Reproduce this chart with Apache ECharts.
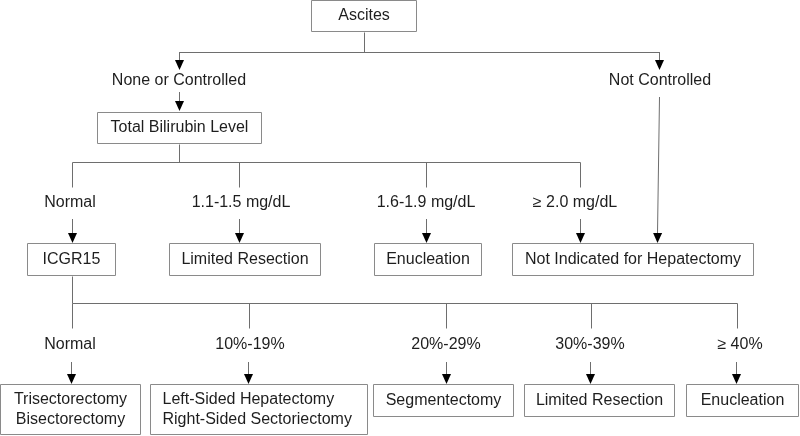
<!DOCTYPE html>
<html>
<head>
<meta charset="utf-8">
<script src="https://cdn.jsdelivr.net/npm/echarts@6/dist/echarts.min.js"></script>
<style>
html,body{margin:0;padding:0;background:#fff;}
#chart{width:800px;height:436px;}
</style>
</head>
<body>
<div id="chart"></div>
<script>
// Box nodes: label text
var boxLabels = [
  "Ascites",
  "Total Bilirubin Level",
  "ICGR15",
  "Limited Resection",
  "Enucleation",
  "Not Indicated for Hepatectomy",
  "Trisectorectomy\nBisectorectomy",
  "Left-Sided Hepatectomy\nRight-Sided Sectoriectomy",
  "Segmentectomy",
  "Limited Resection",
  "Enucleation"
];
// Box extents in diagram units: [x0, y0, x1, y1]
var boxRects = [
  [311, 0, 417, 32],
  [97, 112, 262, 144],
  [27, 243, 116, 276],
  [169, 243, 321, 276],
  [374, 243, 482, 276],
  [512, 243, 754, 276],
  [0, 384, 141, 435],
  [150, 384, 368, 435],
  [373, 384, 514, 417],
  [524, 384, 675, 417],
  [686, 384, 799, 417]
];
// Text alignment of box labels
var boxAlign = ["center","center","center","center","center","center","center","left","center","center","center"];

// Branch labels
var edgeLabels = [
  "None or Controlled", "Not Controlled",
  "Normal", "1.1-1.5 mg/dL", "1.6-1.9 mg/dL", "\u2265 2.0 mg/dL",
  "Normal", "10%-19%", "20%-29%", "30%-39%", "\u2265 40%"
];
var edgeLabelPos = [
  [179, 81], [660, 81],
  [70, 203], [241, 203], [426, 203], [575, 203],
  [70, 345], [250, 345], [446, 345], [590, 345], [740, 345]
];

// Plain connector lines (polylines)
var connectors = [
  [[364, 32], [364, 52]],
  [[179, 52], [659, 52]],
  [[179, 144], [179, 162]],
  [[72, 162], [580, 162]],
  [[72, 162], [72, 187]],
  [[239, 162], [239, 187]],
  [[426, 162], [426, 187]],
  [[580, 162], [580, 187]],
  [[72, 276], [72, 303]],
  [[72, 303], [737, 303]],
  [[72, 303], [72, 328]],
  [[249, 303], [249, 328]],
  [[446, 303], [446, 328]],
  [[591, 303], [591, 328]],
  [[737, 303], [737, 328]]
];
// Arrows: [from, to]
var arrows = [
  [[179, 52], [179, 70]],
  [[659, 52], [659, 70]],
  [[179, 92], [179, 111]],
  [[72, 219], [72, 243]],
  [[239, 219], [239, 243]],
  [[426, 219], [426, 243]],
  [[580, 219], [580, 243]],
  [[659, 97], [657, 243]],
  [[71, 362], [71, 384]],
  [[248, 362], [248, 384]],
  [[446, 362], [446, 384]],
  [[590, 362], [590, 384]],
  [[736, 362], [736, 384]]
];

var FONT = '"Liberation Sans", Arial, sans-serif';
var TEXT_COLOR = '#1e1e1e';
var LINE_COLOR = '#6e6e6e';
var BOX_COLOR = '#8a8a8a';

var chart = echarts.init(document.getElementById('chart'), null, {renderer: 'canvas'});

var boxData = boxRects.map(function (r, i) {
  return {value: [r[0], r[1], r[2], r[3]], name: boxLabels[i], align: boxAlign[i]};
});
var labelData = edgeLabelPos.map(function (p, i) {
  return {value: [p[0], p[1]], name: edgeLabels[i]};
});
var connData = connectors.map(function (c) {
  return {value: [c[0][0], c[0][1], c[1][0], c[1][1]]};
});
var arrowData = arrows.map(function (a) {
  return {value: [a[0][0], a[0][1], a[1][0], a[1][1]]};
});

var option = {
  animation: false,
  backgroundColor: '#ffffff',
  grid: {left: 0, right: 0, top: 0, bottom: 0},
  xAxis: {type: 'value', min: 0, max: 800, show: false},
  yAxis: {type: 'value', min: 0, max: 436, inverse: true, show: false},
  series: [
    {
      type: 'custom',
      name: 'connectors',
      data: connData,
      renderItem: function (params, api) {
        var p0 = api.coord([api.value(0), api.value(1)]);
        var p1 = api.coord([api.value(2), api.value(3)]);
        return {
          type: 'line',
          shape: {x1: Math.round(p0[0]) + 0.5, y1: Math.round(p0[1]) + 0.5, x2: Math.round(p1[0]) + 0.5, y2: Math.round(p1[1]) + 0.5},
          style: {stroke: LINE_COLOR, lineWidth: 1}
        };
      }
    },
    {
      type: 'custom',
      name: 'arrows',
      data: arrowData,
      renderItem: function (params, api) {
        var p0 = api.coord([api.value(0), api.value(1)]);
        var p1 = api.coord([api.value(2), api.value(3)]);
        var dx = p1[0] - p0[0], dy = p1[1] - p0[1];
        var len = Math.sqrt(dx * dx + dy * dy);
        var ux = dx / len, uy = dy / len;
        var hl = 10, hw = 4.5;
        var bx = p1[0] - ux * hl, by = p1[1] - uy * hl;
        return {
          type: 'group',
          children: [
            {
              type: 'line',
              shape: {x1: Math.round(p0[0]) + 0.5, y1: p0[1], x2: Math.round(bx) + 0.5, y2: by},
              style: {stroke: LINE_COLOR, lineWidth: 1}
            },
            {
              type: 'polygon',
              shape: {points: [
                [p1[0] + 0.5, p1[1]],
                [bx - uy * hw + 0.5, by + ux * hw],
                [bx + uy * hw + 0.5, by - ux * hw]
              ]},
              style: {fill: '#000000'}
            }
          ]
        };
      }
    },
    {
      type: 'custom',
      name: 'boxes',
      data: boxData,
      renderItem: function (params, api) {
        var p0 = api.coord([api.value(0), api.value(1)]);
        var p1 = api.coord([api.value(2), api.value(3)]);
        var item = boxData[params.dataIndex];
        var x0 = Math.round(p0[0]) + 0.5, y0 = Math.round(p0[1]) + 0.5;
        var w = Math.round(p1[0] - p0[0]) - 1, h = Math.round(p1[1] - p0[1]) - 1;
        var isLeft = item.align === 'left';
        return {
          type: 'group',
          children: [
            {
              type: 'rect',
              shape: {x: x0, y: y0, width: w, height: h},
              style: {fill: '#ffffff', stroke: BOX_COLOR, lineWidth: 1}
            },
            {
              type: 'text',
              x: isLeft ? x0 + 12 : x0 + w / 2,
              y: y0 + h / 2,
              style: {
                text: item.name,
                fill: TEXT_COLOR,
                font: '16px ' + FONT,
                align: isLeft ? 'left' : 'center',
                verticalAlign: 'middle',
                lineHeight: 20
              }
            }
          ]
        };
      }
    },
    {
      type: 'custom',
      name: 'labels',
      data: labelData,
      renderItem: function (params, api) {
        var p = api.coord([api.value(0), api.value(1)]);
        return {
          type: 'text',
          x: p[0],
          y: p[1],
          style: {
            text: labelData[params.dataIndex].name,
            fill: TEXT_COLOR,
            font: '16px ' + FONT,
            align: 'center',
            verticalAlign: 'middle'
          }
        };
      }
    }
  ]
};
chart.setOption(option);
</script>
</body>
</html>
